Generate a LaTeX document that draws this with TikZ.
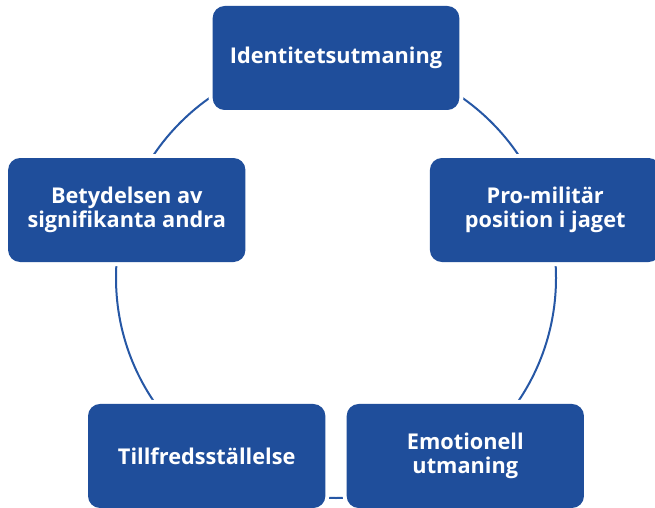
\documentclass[tikz,border=0pt]{standalone}
\usepackage{fontspec}
\setmainfont{Open Sans}
\usepackage{xcolor}
\usepackage{tikz}
\usetikzlibrary{
  positioning,
  calc
}

\definecolor{boxblue}{HTML}{1F4E9B}
\definecolor{ringblue}{HTML}{2657A5}

\tikzset{
  stage/.style={
    rounded corners=9pt, fill=boxblue, text=white,
    font=\bfseries\fontsize{16.3}{18.3}\selectfont, align=center,
    minimum width=178pt, minimum height=78pt, inner sep=0pt,
    preaction={draw=white, line width=6pt}
  }
}

\begin{document}
\begin{tikzpicture}[x=0.75pt, y=0.75pt]
  % 画像の範囲
  \clip (0,0) rectangle (655,507);

  % 円環
  \coordinate (hub) at (336,229);
  \draw [ringblue, line width=1.5pt] (hub) circle [radius=220];

  % 各段階
  \node [stage, minimum width=185pt] (identitet) at ($(hub)+(90:220)$) {Identitetsutmaning};
  \node [stage, minimum width=173pt] (promilitar) at ($(hub)+(18:220)$) {Pro-militär\\position i jaget};
  \node [stage] (emotionell) at ($(hub)+(-54:220)$) {Emotionell\\utmaning};
  \node [stage] (tillfreds) at ($(hub)+(-126:220)$) {Tillfredsställelse};
  \node [stage] (betydelsen) at ($(hub)+(162:220)$) {Betydelsen av\\signifikanta andra};
\end{tikzpicture}
\end{document}
